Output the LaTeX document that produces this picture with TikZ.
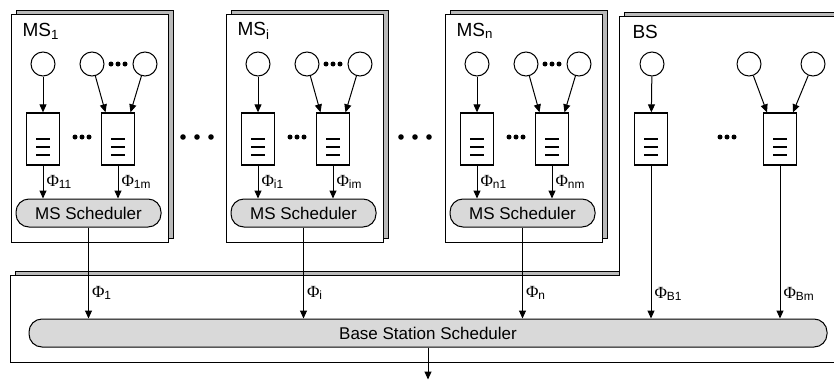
\documentclass[tikz,border=0pt]{standalone}
\usepackage{fontspec}
\setmainfont{Liberation Sans}
\newfontfamily\phifont{Liberation Serif}
\usetikzlibrary{arrows.meta,positioning}

\newcommand{\rateof}[1]{{\phifont Φ}\textsubscript{#1}}

\begin{document}
\begin{tikzpicture}[x=1pt, y=-1pt, >={Triangle[length=8pt,width=7pt]}, line width=1pt]
	% Define block styles
	\tikzstyle{page} = [draw, fill=white]
	\tikzstyle{shadow} = [draw, fill=gray!55]
	\tikzstyle{source} = [circle, draw, minimum size=24pt, inner sep=0pt]
	\tikzstyle{queue} = [rectangle, draw, fill=white, line width=1.3pt, minimum width=33pt, minimum height=52pt, inner sep=0pt,
		path picture={\foreach \d in {0,8,16} \draw[line width=1.3pt] ([xshift=-7pt,yshift=-\d pt]path picture bounding box.center) -- ([xshift=7pt,yshift=-\d pt]path picture bounding box.center);}]
	\tikzstyle{sched} = [rectangle, draw, fill=gray!30, rounded corners=13pt, minimum height=28pt, inner sep=0pt, font=\fontsize{17}{19}\selectfont]
	\tikzstyle{lbl} = [anchor=west, inner sep=0pt, font=\fontsize{19}{21}\selectfont]
	\tikzstyle{rate} = [right, inner sep=3pt, font=\fontsize{17}{19}\selectfont]
	\tikzstyle{line} = [draw, ->]

	\useasboundingbox (0,0) rectangle (834,380);

	% Base station frame
	\draw[shadow] (15,271) -- (624,271) -- (624,12) -- (845,12) -- (845,358) -- (15,358) -- cycle;
	\draw[page] (10,275) -- (619,275) -- (619,16) -- (840,16) -- (840,362) -- (10,362) -- cycle;
	\node[sched, minimum width=798pt] (bss) at (428,333) {Base Station Scheduler};
	\coordinate (out) at ([yshift=-32pt]bss.south);
	\path[line] (bss) -- (out);

	% Base station queues
	\node[lbl] (bs) at (632,32) {BS};
	\node[source] (sB-a) at (652,64) {};
	\node[source] (sB-b) at (749,64) {};
	\node[source] (sB-c) at (813,64) {};
	\node[queue] (qB-a) at (651,139) {};
	\node[queue] (qB-b) at (780,139) {};
	\foreach \x in {720,727,734} \fill (\x,137) circle (2.5pt);
	\path[line] (sB-a) -- (qB-a);
	\path[line] (sB-b) -- ([xshift=-13pt]qB-b.north);
	\path[line] (sB-c) -- ([xshift=13pt]qB-b.north);
	\path[line] (qB-a) -- (qB-a |- bss.north) node[rate, pos=0.84] {\rateof{B1}};
	\path[line] (qB-b) -- (qB-b |- bss.north) node[rate, pos=0.84] {\rateof{Bm}};

	% Mobile stations
	\foreach \L/\i/\a/\b in {11/1/11/1m, 226/i/i1/im, 445/n/n1/nm} {
		\draw[shadow] (\L+5,10) rectangle (\L+162,238);
		\draw[page] (\L,14) rectangle (\L+157,242);
		\node[lbl] (ms\i) at (\L+11,31) {MS\textsubscript{\i}};
		\node[source] (s\i-a) at (\L+32,64) {};
		\node[source] (s\i-b) at (\L+81,64) {};
		\node[source] (s\i-c) at (\L+134,64) {};
		\node[queue] (q\i-a) at (\L+32,139) {};
		\node[queue] (q\i-b) at (\L+107,139) {};
		\node[sched, minimum width=145pt] (sch\i) at (\L+77.5,213) {MS Scheduler};
		\foreach \x in {100,107,114} \fill (\L+\x,64) circle (2.5pt);
		\foreach \x in {64,71,78} \fill (\L+\x,137) circle (2.5pt);
		% Connecting lines
		\path[line] (s\i-a) -- (q\i-a);
		\path[line] (s\i-b) -- ([xshift=-12.5pt]q\i-b.north);
		\path[line] (s\i-c) -- ([xshift=12.5pt]q\i-b.north);
		\path[line] (q\i-a) -- (q\i-a |- sch\i.north) node[rate, midway] {\rateof{\a}};
		\path[line] (q\i-b) -- (q\i-b |- sch\i.north) node[rate, midway] {\rateof{\b}};
		\path[line] (sch\i) -- (sch\i |- bss.north) node[rate, pos=0.72] {\rateof{\i}};
	}

	% Dots between stations
	\foreach \x in {183,197,211,401,415,429} \fill (\x,137) circle (2.8pt);
\end{tikzpicture}
\end{document}
